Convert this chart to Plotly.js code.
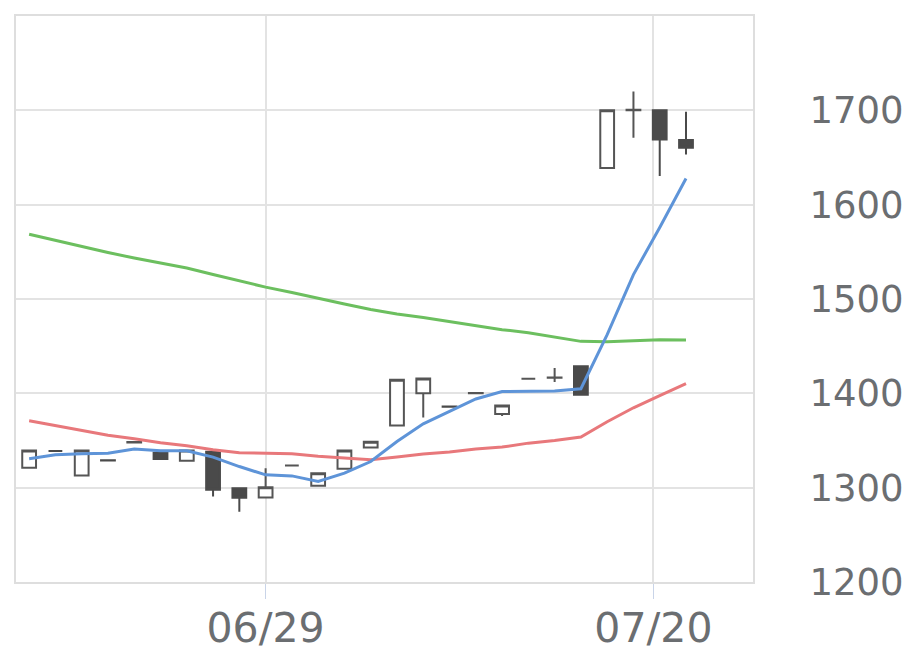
<!DOCTYPE html>
<html>
<head>
<meta charset="utf-8">
<script src="https://cdn.plot.ly/plotly-3.0.1.min.js"></script>
<style>html,body{margin:0;padding:0;background:#fff;}#chart{width:920px;height:669px;}</style>
</head>
<body>
<div id="chart"></div>
<script>
// Trading dates (06/16 .. 07/21)
const dates = ['06/16','06/17','06/18','06/19','06/22','06/23','06/24','06/25','06/26','06/29',
               '06/30','07/01','07/02','07/03','07/06','07/07','07/08','07/09','07/10','07/13',
               '07/14','07/15','07/16','07/17','07/20','07/21'];
const openP  = [1321,1339,1313,1329,1348,1337,1328.5,1338,1299.5,1289.5,1323.5,1302,1320,1342.6,1366,1400,1386,1400,1378,1415.5,1416.5,1428.6,1639,1700,1700,1668.5];
const highP  = [1339.4,1339.5,1339.4,1329.5,1348.5,1338,1339.4,1338.3,1299.5,1320.7,1324,1315.4,1339.4,1348.6,1414.4,1415.8,1386.3,1400.5,1387.2,1416,1426.9,1428.6,1700,1719.9,1700,1698.6];
const lowP   = [1320,1338.5,1312.9,1328.5,1347.5,1330.3,1328.5,1290.6,1274.6,1289.5,1323,1302.2,1319.6,1342.6,1365.9,1374.4,1385.5,1399.8,1375.9,1415,1412,1398.5,1639.2,1671,1630.3,1653.3];
const closeP = [1339.4,1339,1339.4,1328.8,1348.3,1330.3,1339.4,1297.7,1289.2,1300.5,1323.5,1315.4,1339.4,1348.6,1414.4,1415.8,1385.8,1400.3,1387.2,1415.5,1416.9,1398.5,1700,1700.5,1669.2,1660.4];
// Moving averages
const maShort = [1330.6,1334.8,1335.9,1336.4,1340.9,1339.1,1339.1,1332.4,1322.4,1313.6,1312.5,1306.7,1315.4,1327.7,1348.9,1367.7,1380.8,1394,1402,1402,1402.4,1404.9,1462.2,1525.9,1575.9,1627.8];
const maMid   = [1370.9,1365.6,1360.3,1355.5,1351.8,1347.6,1344.4,1340.1,1337,1336.4,1335.9,1333.2,1331.3,1329.5,1332.4,1335.6,1337.7,1340.9,1343,1347.2,1350,1353.6,1369.9,1384.7,1397.5,1410.2];
const maLong  = [1568.7,1562,1555.6,1549.3,1543.4,1538.1,1532.8,1525.9,1519,1512.6,1506.8,1500.4,1494.6,1488.8,1484,1480.3,1476,1471.8,1467.5,1464.3,1459.6,1455.1,1454.8,1455.8,1456.9,1456.6];
const yTicks = [1200,1300,1400,1500,1600,1700];
const xTickLabels = ['06/29','07/20'];

const xi = dates.map((d,i)=>i);
const yFont = {family:'"DejaVu Sans", sans-serif', size:37, color:'#6b6e71'};
const xFont = {family:'"DejaVu Sans", sans-serif', size:41, color:'#6b6e71'};

const traces = [
  {type:'scatter', mode:'lines', x:xi, y:maLong, line:{color:'#6cbf5f', width:3}, hoverinfo:'skip'},
  {type:'scatter', mode:'lines', x:xi, y:maMid, line:{color:'#e8787b', width:3}, hoverinfo:'skip'},
  {type:'candlestick', x:xi, open:openP, high:highP, low:lowP, close:closeP,
   increasing:{fillcolor:'#ffffff', line:{color:'#555555', width:2}},
   decreasing:{fillcolor:'#4a4a4a', line:{color:'#4a4a4a', width:2}},
   whiskerwidth:0, hoverinfo:'skip'},
  {type:'scatter', mode:'lines', x:xi, y:maShort, line:{color:'#5e94d8', width:3}, hoverinfo:'skip'}
];

const layout = {
  width:920, height:669,
  margin:{l:16, r:167, t:16, b:87},
  paper_bgcolor:'#ffffff', plot_bgcolor:'#ffffff',
  showlegend:false,
  boxgap:0.25,
  font:yFont,
  xaxis:{
    type:'linear', range:[-0.5, 27.55],
    tickvals:[dates.indexOf('06/29'), dates.indexOf('07/20') - 0.24],
    ticktext:xTickLabels,
    ticks:'outside', ticklen:15, tickwidth:1.5, tickcolor:'#c9d4e8',
    ticklabelstandoff:-6,
    showgrid:true, gridcolor:'#e3e3e3', gridwidth:2,
    showline:true, linecolor:'#dedede', linewidth:2, mirror:true,
    zeroline:false, rangeslider:{visible:false}, fixedrange:true,
    tickfont:xFont
  },
  yaxis:{
    side:'right', range:[1200,1800], tickvals:yTicks,
    ticks:'', ticklabelstandoff:47,
    showgrid:true, gridcolor:'#e3e3e3', gridwidth:2,
    showline:true, linecolor:'#dedede', linewidth:2, mirror:true,
    zeroline:false, fixedrange:true,
    tickfont:yFont
  }
};

Plotly.newPlot('chart', traces, layout, {displayModeBar:false, staticPlot:true});
</script>
</body>
</html>
